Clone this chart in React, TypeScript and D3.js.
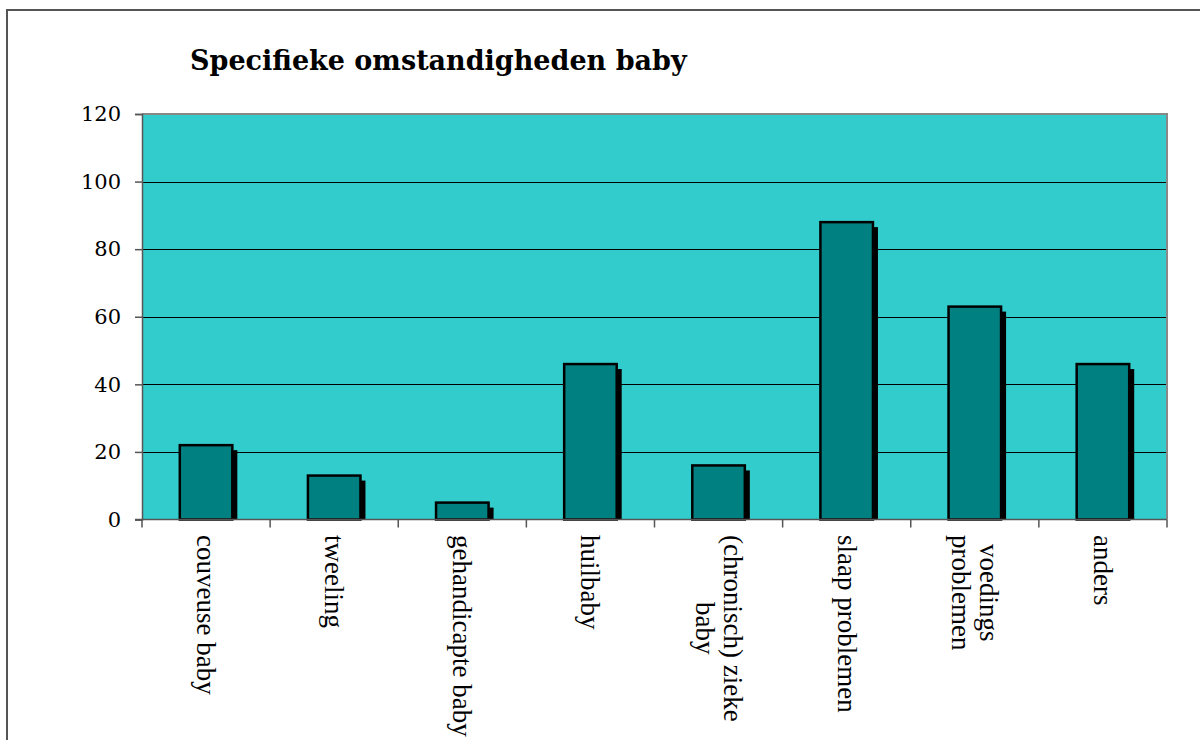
import React, { useEffect, useRef } from "react";
import * as d3 from "d3";

const categories: string[][] = [
  ["couveuse baby"],
  ["tweeling"],
  ["gehandicapte baby"],
  ["huilbaby"],
  ["(chronisch) zieke", "baby"],
  ["slaap problemen"],
  ["voedings", "problemen"],
  ["anders"],
];
const values: number[] = [22, 13, 5, 46, 16, 88, 63, 46];
const yTicks: number[] = [0, 20, 40, 60, 80, 100, 120];
const title = "Specifieke omstandigheden baby";

const W = 1200;
const H = 740;
const plot = { left: 142, right: 1167, top: 114, bottom: 519.5 };

export default function App() {
  const ref = useRef<SVGSVGElement | null>(null);

  useEffect(() => {
    const svg = d3.select(ref.current);
    svg.selectAll("*").remove();

    const x = d3
      .scaleBand<number>()
      .domain(categories.map((_, i) => i))
      .range([plot.left, plot.right])
      .paddingInner(0.59)
      .paddingOuter(0.295);
    const xOuter = d3
      .scaleBand<number>()
      .domain(categories.map((_, i) => i))
      .range([plot.left, plot.right]);
    const y = d3.scaleLinear().domain([0, 120]).range([plot.bottom, plot.top]);

    // outer frame
    svg
      .append("rect")
      .attr("x", 7)
      .attr("y", 10)
      .attr("width", W + 20)
      .attr("height", H + 20)
      .attr("fill", "#fff")
      .attr("stroke", "#555")
      .attr("stroke-width", 2);

    // title
    svg
      .append("text")
      .attr("x", 190)
      .attr("y", 70)
      .attr("font-family", "'DejaVu Serif', serif")
      .attr("font-weight", "bold")
      .attr("font-size", 27)
      .attr("fill", "#000")
      .text(title);

    // plot background
    svg
      .append("rect")
      .attr("x", plot.left)
      .attr("y", plot.top)
      .attr("width", plot.right - plot.left)
      .attr("height", plot.bottom - plot.top)
      .attr("fill", "#33CCCC");

    // gridlines
    svg
      .append("g")
      .selectAll("line")
      .data(yTicks.filter((t) => t > 0 && t < 120))
      .join("line")
      .attr("x1", plot.left)
      .attr("x2", plot.right)
      .attr("y1", (d) => Math.round(y(d)) + 0.5)
      .attr("y2", (d) => Math.round(y(d)) + 0.5)
      .attr("stroke", "#000")
      .attr("stroke-width", 1);

    // top & right border
    svg
      .append("path")
      .attr("d", `M${plot.left},${plot.top} H${plot.right} V${plot.bottom}`)
      .attr("fill", "none")
      .attr("stroke", "#888")
      .attr("stroke-width", 2);

    // bars with shadow
    const g = svg.append("g");
    const bw = x.bandwidth();
    values.forEach((v, i) => {
      const bx = x(i)!;
      const by = y(v);
      g.append("rect")
        .attr("x", bx + 5)
        .attr("y", by + 5)
        .attr("width", bw)
        .attr("height", Math.max(0, plot.bottom - by - 5))
        .attr("fill", "#000");
      g.append("rect")
        .attr("x", bx)
        .attr("y", by)
        .attr("width", bw)
        .attr("height", plot.bottom - by)
        .attr("fill", "#008080")
        .attr("stroke", "#000")
        .attr("stroke-width", 2.5);
    });

    // y axis
    const yAxis = d3
      .axisLeft(y)
      .tickValues(yTicks)
      .tickSize(7)
      .tickPadding(14)
      .tickFormat((d) => String(d));
    const ya = svg.append("g").attr("transform", `translate(${plot.left},0)`).call(yAxis);
    ya.select(".domain").attr("stroke", "#555").attr("stroke-width", 1.5);
    ya.selectAll(".tick line").attr("stroke", "#555").attr("stroke-width", 1.5);
    ya.selectAll(".tick text")
      .attr("font-family", "'DejaVu Serif', serif")
      .attr("font-size", 21)
      .attr("fill", "#000");

    // x axis line and ticks at category boundaries
    svg
      .append("line")
      .attr("x1", plot.left - 7)
      .attr("x2", plot.right)
      .attr("y1", plot.bottom)
      .attr("y2", plot.bottom)
      .attr("stroke", "#555")
      .attr("stroke-width", 1.5);
    const bounds = categories.map((_, i) => xOuter(i)!).concat([plot.right]);
    svg
      .append("g")
      .selectAll("line")
      .data(bounds)
      .join("line")
      .attr("x1", (d) => d)
      .attr("x2", (d) => d)
      .attr("y1", plot.bottom)
      .attr("y2", plot.bottom + 8)
      .attr("stroke", "#555")
      .attr("stroke-width", 1.5);

    // x labels rotated 90deg
    const lineH = 28;
    const fs = 27;
    categories.forEach((lines, i) => {
      const cx = xOuter(i)! + xOuter.bandwidth() / 2;
      const lg = svg.append("g");
      const texts = lines.map((ln) =>
        lg
          .append("text")
          .attr("font-family", "'Liberation Serif', 'Times New Roman', serif")
          .attr("font-size", fs)
          .attr("fill", "#000")
          .attr("text-anchor", "middle")
          .attr("dominant-baseline", "central")
          .text(ln)
      );
      const widths = texts.map((t) => (t.node() as SVGTextElement).getComputedTextLength());
      const maxW = Math.max(...widths);
      const n = lines.length;
      texts.forEach((t, k) => {
        const px = cx + ((n - 1) / 2 - k) * lineH;
        const py = 535 + maxW / 2;
        t.attr("transform", `translate(${px},${py}) rotate(90)`);
      });
    });
  }, []);

  return (
    <svg
      ref={ref}
      width={W}
      height={H}
      style={{ position: "absolute", left: 0, top: 0, background: "#fff" }}
    />
  );
}
